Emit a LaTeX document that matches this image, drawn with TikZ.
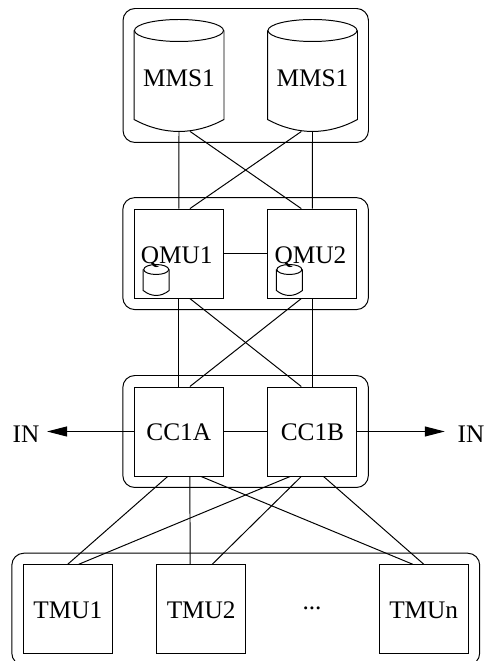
\documentclass[tikz,border=0pt]{standalone}
\usepackage{fontspec}
\setmainfont{Liberation Serif}
\usetikzlibrary{arrows.meta}
\usetikzlibrary{fit}

\tikzset{
    unitbox/.style={draw, minimum width=2.225cm, minimum height=2.225cm, inner sep=0pt, text height=0.47cm, text depth=0pt},
    drumbox/.style={minimum width=2.225cm, minimum height=2.775cm, inner sep=0pt, text height=0.575cm, text depth=0pt},
    diskbox/.style={minimum width=0.625cm, minimum height=0.75cm, inner sep=0pt},
    groupbox/.style={draw, rounded corners=0.3cm, inner sep=0.275cm},
    outlabel/.style={inner sep=0.18cm},
    outarrow/.style={-{Triangle[length=0.5cm,width=0.25cm]}}
}

% outline of a drum: node, half width, ellipse half height, bottom sag
\newcommand{\drumoutline}[4]{
    \draw ([yshift=-#3cm]#1.north) ellipse ({#2} and {#3});
    \draw ([yshift=-#3cm]#1.north west) -- ([yshift=#4cm]#1.south west)
        .. controls ([shift={({#2*0.66},{-#4*0.33})}]#1.south west)
        and ([shift={({-#2*0.66},{-#4*0.33})}]#1.south east)
        .. ([yshift=#4cm]#1.south east) -- ([yshift=-#3cm]#1.north east);
}

\begin{document}
\begin{tikzpicture}[line width=0.7pt, font=\fontsize{18}{20}\selectfont]
            \useasboundingbox (0,0) rectangle (12.1,16.525);

            % Mass storage
            \node[drumbox] (mmsa) at (4.475,14.6375) {MMS1};
            \node[drumbox] (mmsb) at (7.8125,14.6375) {MMS1};
            \drumoutline{mmsa}{1.1125}{0.275}{0.3}
            \drumoutline{mmsb}{1.1125}{0.275}{0.3}
            \node[groupbox, fit=(mmsa)(mmsb)] (mmsgroup) {};

            % Queue units
            \node[unitbox, text height=0.52cm] (qmua) at (4.47,10.185) {QMU1\hspace*{0.1cm}};
            \node[unitbox, text height=0.52cm] (qmub) at (7.81,10.185) {QMU2\hspace*{0.1cm}};
            \node[diskbox] (diska) at (3.905,9.525) {};
            \node[diskbox] (diskb) at (7.235,9.525) {};
            \drumoutline{diska}{0.3125}{0.125}{0.125}
            \drumoutline{diskb}{0.3125}{0.125}{0.125}
            \node[groupbox, fit=(qmua)(qmub)] (qmugroup) {};

            % Control cards
            \node[unitbox] (cca) at (4.47,5.7375) {CC1A};
            \node[unitbox] (ccb) at (7.81,5.7375) {CC1B};
            \node[groupbox, fit=(cca)(ccb)] (ccgroup) {};

            % Traffic units
            \node[unitbox] (tmua) at (1.695,1.295) {TMU1};
            \node[unitbox] (tmub) at (5.03,1.295) {TMU2};
            \node[unitbox] (tmun) at (10.5925,1.295) {TMUn};
            \node (tmudots) at (7.8,1.325) {...};
            \node[groupbox, fit=(tmua)(tmun)] (tmugroup) {};

            % Outside labels
            \node[outlabel] (inleft) at (0.65,5.67) {IN};
            \node[outlabel] (inright) at (11.775,5.67) {IN};

            % Links between the first two rows
            \draw (mmsa.south) -- (qmua.north);
            \draw (mmsb.south) -- (qmub.north);
            \draw ([xshift=0.278cm]mmsa.south) -- ([xshift=-0.278cm]qmub.north);
            \draw ([xshift=-0.278cm]mmsb.south) -- ([xshift=0.278cm]qmua.north);
            \draw (qmua.east) -- (qmub.west);

            % Links between the next two rows
            \draw (qmua.south) -- (cca.north);
            \draw (qmub.south) -- (ccb.north);
            \draw ([xshift=0.278cm]qmua.south) -- ([xshift=-0.278cm]ccb.north);
            \draw ([xshift=-0.278cm]qmub.south) -- ([xshift=0.278cm]cca.north);
            \draw (cca.east) -- (ccb.west);

            % Arrows to the outside
            \draw[outarrow] (cca.west) -- (cca.west -| inleft.east);
            \draw[outarrow, shorten >=0.13cm] (ccb.east) -- (ccb.east -| inright.west);

            % Links to the bottom row
            \draw ([xshift=-0.278cm]cca.south) -- (tmua.north);
            \draw ([xshift=0.278cm]cca.south) -- ([xshift=-0.278cm]tmub.north);
            \draw ([xshift=0.556cm]cca.south) -- ([xshift=-0.278cm]tmun.north);
            \draw ([xshift=-0.556cm]ccb.south) -- ([xshift=0.278cm]tmua.north);
            \draw ([xshift=-0.278cm]ccb.south) -- ([xshift=0.278cm]tmub.north);
            \draw ([xshift=0.278cm]ccb.south) -- (tmun.north);

        \end{tikzpicture}
\end{document}
